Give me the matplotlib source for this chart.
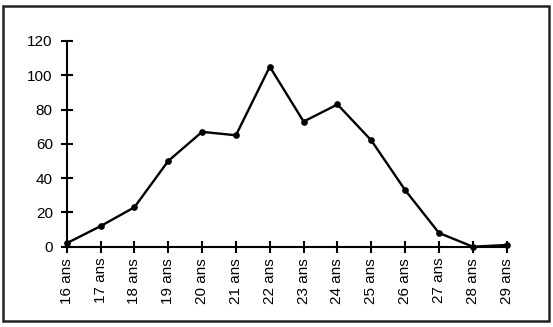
import matplotlib
matplotlib.use("Agg")
import matplotlib.pyplot as plt
from matplotlib.patches import Rectangle

ages = [16, 17, 18, 19, 20, 21, 22, 23, 24, 25, 26, 27, 28, 29]
labels = [f"{a} ans" for a in ages]
values = [2, 12, 23, 50, 67, 65, 105, 73, 83, 62, 33, 8, 0, 1]
yticks = [0, 20, 40, 60, 80, 100, 120]

plt.rcParams['font.family'] = ['Liberation Sans', 'DejaVu Sans']

W, H = 553, 327
fig = plt.figure(figsize=(W / 100, H / 100), dpi=100)
fig.patch.set_facecolor('white')

ax = fig.add_axes([66.7 / W, 1 - 246.7 / H, (506.7 - 66.7) / W, (246.7 - 41) / H])
ax.plot(ages, values, color='black', lw=1.7, marker='o', markersize=3.8,
        clip_on=False, zorder=3)
ax.set_xlim(16, 29)
ax.set_ylim(0, 120)
ax.set_xticks(ages)
ax.set_xticklabels(labels, rotation=90, fontsize=11)
ax.set_yticks(yticks)
ax.set_yticklabels([str(v) for v in yticks], fontsize=11)
for s in ['top', 'right']:
    ax.spines[s].set_visible(False)
for s in ['left', 'bottom']:
    ax.spines[s].set_linewidth(1.5)
ax.tick_params(axis='both', direction='inout', length=8, width=1.5, colors='black')
ax.tick_params(axis='x', pad=4)
ax.tick_params(axis='y', pad=6)

fig.patches.append(Rectangle((3.3 / W, 6 / H), (549 - 3.3) / W, (323 - 6 - 2) / H,
                             transform=fig.transFigure, fill=False,
                             edgecolor='#222222', lw=1.8))

fig.savefig('out.png', dpi=100, facecolor='white')
